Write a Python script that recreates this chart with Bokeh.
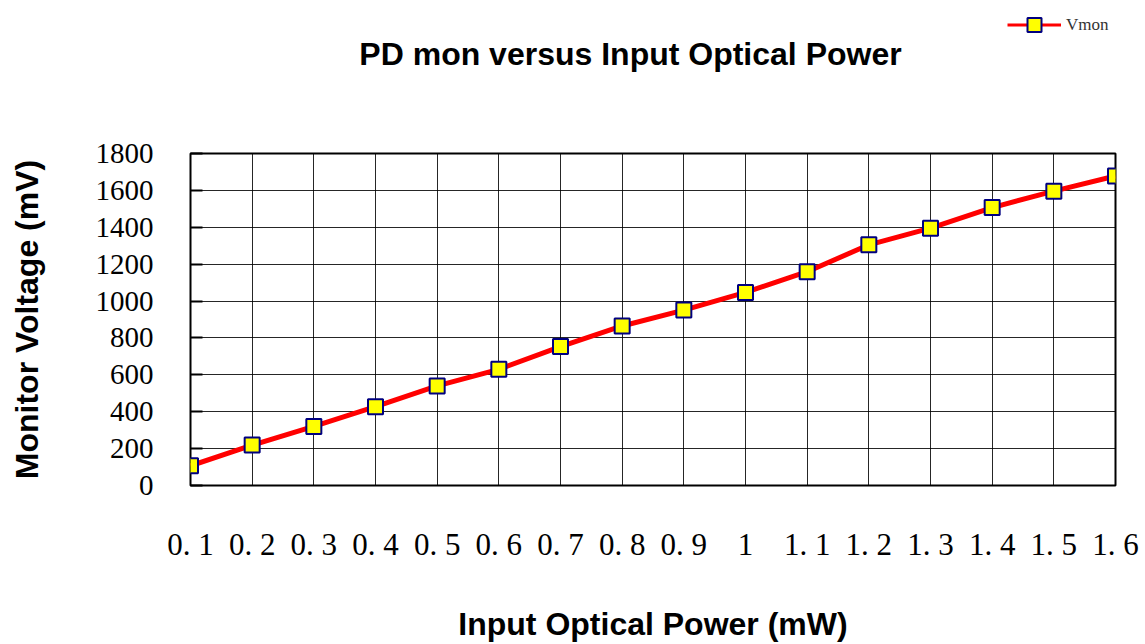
from bokeh.plotting import figure
from bokeh.layouts import column
from bokeh.models import Range1d, FixedTicker, Legend, LegendItem, Label, ColumnDataSource
from bokeh.embed import file_html
from bokeh.resources import INLINE

power = [0.1, 0.2, 0.3, 0.4, 0.5, 0.6, 0.7, 0.8, 0.9, 1.0, 1.1, 1.2, 1.3, 1.4, 1.5, 1.6]
vmon = [107, 219, 320, 427, 540, 630, 753, 865, 951, 1047, 1159, 1305, 1395, 1507, 1596, 1678]
x_tick_labels = ["0. 1", "0. 2", "0. 3", "0. 4", "0. 5", "0. 6", "0. 7", "0. 8", "0. 9", "1",
                 "1. 1", "1. 2", "1. 3", "1. 4", "1. 5", "1. 6"]
y_ticks = [0, 200, 400, 600, 800, 1000, 1200, 1400, 1600, 1800]
series_name = "Vmon"
chart_title = "PD mon versus Input Optical Power"

src = ColumnDataSource(dict(x=power, y=vmon))

LINE = dict(line_color="#ff0000", line_width=5)
MARK = dict(marker="square", size=15, fill_color="#ffff00", line_color="#000080", line_width=2)

HEAD_H = 130

# ---- header figure: title + legend (page-pixel coordinates, y downward) ----
top = figure(width=1145, height=HEAD_H, output_backend="svg", toolbar_location=None,
             x_range=Range1d(190, 1115), y_range=Range1d(HEAD_H, 0),
             x_axis_type=None, y_axis_type=None, min_border=0)
top.grid.visible = False
top.outline_line_color = None
top.background_fill_color = "white"
top.border_fill_color = "white"

top.add_layout(Label(x=630, y=53, text=chart_title, text_align="center", text_baseline="middle",
                     text_font="Liberation Sans", text_font_size="32px",
                     text_font_style="bold", text_color="black"))

# legend-only renderers: the series data lies outside this header's ranges, so nothing is drawn
lg_ln = top.line("x", "y", source=src, line_color="#ff0000", line_width=3)
lg_mk = top.scatter("x", "y", source=src, **MARK)
legend = Legend(items=[LegendItem(label=series_name, renderers=[lg_ln, lg_mk])],
                location=(817, HEAD_H - 42), orientation="vertical",
                border_line_color=None, background_fill_alpha=0,
                label_text_font="Liberation Serif", label_text_font_size="17px",
                label_text_color="#333333",
                glyph_width=54, glyph_height=35, label_standoff=5, padding=2, margin=0)
top.add_layout(legend, "center")

# ---- main chart ----
p = figure(width=1145, height=644 - HEAD_H, output_backend="svg", toolbar_location=None,
           x_range=Range1d(0.1, 1.6), y_range=Range1d(0, 1800),
           min_border_left=190, min_border_right=30, min_border_top=153 - HEAD_H,
           min_border_bottom=154)

p.outline_line_color = "black"
p.outline_line_width = 2
p.background_fill_color = "white"
p.border_fill_color = "white"

xa = p.xaxis[0]
xa.ticker = FixedTicker(ticks=power)
xa.major_label_overrides = {v: t for v, t in zip(power, x_tick_labels)}
xa.axis_line_color = None
xa.major_tick_line_color = None
xa.minor_tick_line_color = None
xa.major_label_text_font = "Liberation Serif"
xa.major_label_text_font_size = "31px"
xa.major_label_text_color = "black"
xa.major_label_standoff = 35
xa.axis_label = "Input Optical Power (mW)"
xa.axis_label_text_font = "Liberation Sans"
xa.axis_label_text_font_size = "32px"
xa.axis_label_text_font_style = "bold"
xa.axis_label_text_color = "black"
xa.axis_label_standoff = 41

ya = p.yaxis[0]
ya.ticker = FixedTicker(ticks=y_ticks)
ya.axis_line_color = None
ya.major_tick_in = 12
ya.major_tick_out = 0
ya.major_tick_line_color = "black"
ya.major_tick_line_width = 2
ya.minor_tick_line_color = None
ya.major_label_text_font = "Liberation Serif"
ya.major_label_text_font_size = "29px"
ya.major_label_text_color = "black"
ya.major_label_standoff = 37
ya.axis_label = "Monitor Voltage (mV)"
ya.axis_label_text_font = "Liberation Sans"
ya.axis_label_text_font_size = "32px"
ya.axis_label_text_font_style = "bold"
ya.axis_label_text_color = "black"
ya.axis_label_standoff = 48

p.xgrid.grid_line_color = "black"
p.xgrid.grid_line_width = 1
p.xgrid.grid_line_alpha = 0.85
p.ygrid.grid_line_color = "black"
p.ygrid.grid_line_width = 1
p.ygrid.grid_line_alpha = 0.85

p.line("x", "y", source=src, **LINE)
p.scatter("x", "y", source=src, **MARK)

layout = column(top, p, spacing=0)
open("out.html", "w").write(file_html(layout, INLINE))
